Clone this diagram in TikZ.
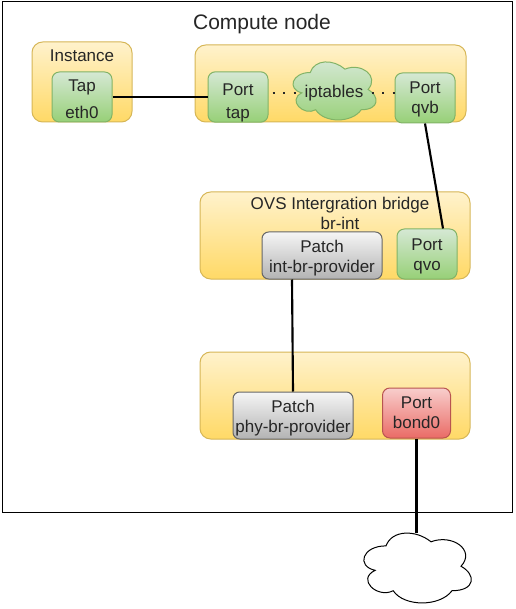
\documentclass[tikz,border=0pt]{standalone}
\usepackage{fontspec}
\setmainfont{Liberation Sans}
\usetikzlibrary{shapes}

\definecolor{bridgetop}{HTML}{FFF2CC}
\definecolor{bridgebot}{HTML}{FFD966}
\definecolor{bridgeline}{HTML}{D6B656}
\definecolor{porttop}{HTML}{D5E8D4}
\definecolor{portbot}{HTML}{97D077}
\definecolor{portline}{HTML}{82B366}
\definecolor{patchtop}{HTML}{F5F5F5}
\definecolor{patchbot}{HTML}{B3B3B3}
\definecolor{patchline}{HTML}{666666}
\definecolor{redtop}{HTML}{F8CECC}
\definecolor{redbot}{HTML}{EA6B66}
\definecolor{redline}{HTML}{B85450}

\tikzset{
  lbl/.style={font=\fontsize{12.75}{15}\selectfont,align=center,text=black!85},
  bridgebox/.style={draw=bridgeline,top color=bridgetop,bottom color=bridgebot,rounded corners=8pt,line width=0.75pt,inner sep=0pt},
  portbox/.style={lbl,draw=portline,top color=porttop,bottom color=portbot,rounded corners=5.5pt,line width=0.75pt,inner sep=0pt,minimum width=45pt,minimum height=37.5pt},
  patchbox/.style={lbl,draw=patchline,top color=patchtop,bottom color=patchbot,rounded corners=5pt,line width=0.75pt,inner sep=0pt,minimum width=90pt,minimum height=35.25pt},
  redbox/.style={portbox,draw=redline,top color=redtop,bottom color=redbot,minimum width=51pt},
  wire/.style={line width=1.6pt,black},
  dots/.style={line width=1.5pt,black!85,dash pattern=on 1.5pt off 6.4pt,dash phase=4.9pt}
}
% cloud outline: style, left, top, width, height
\newcommand{\cloudpath}[5]{
  \draw[#1,shift={(#2,#3)},x=#4*0.75pt,y=-#5*0.75pt]
    (.25,.25) .. controls (.05,.25) and (0,.5) .. (.16,.55)
    .. controls (0,.66) and (.18,.9) .. (.31,.8)
    .. controls (.4,1) and (.7,1) .. (.8,.8)
    .. controls (1,.8) and (1,.6) .. (.875,.5)
    .. controls (1,.3) and (.8,.1) .. (.625,.2)
    .. controls (.5,.05) and (.3,.05) .. (.25,.25) -- cycle;
}

\begin{document}
\begin{tikzpicture}[x=0.75pt,y=-0.75pt]
  \useasboundingbox (0,0) rectangle (516,609);
  % compute node frame
  \node[draw=black,line width=0.75pt,fill=white,inner sep=0pt,minimum width=382.5pt,minimum height=382.5pt] (compute) at (257,257) {};
  \node[font=\fontsize{15.75}{18}\selectfont,text=black!85] (computetxt) at (262,24) {Compute node};

  % bridges
  \node[bridgebox,minimum width=75pt,minimum height=60pt] (instance) at (82,82) {};
  \node[bridgebox,minimum width=203.25pt,minimum height=57.75pt] (vethbr) at (330.5,83.5) {};
  \node[bridgebox,minimum width=202.5pt,minimum height=65.25pt] (brint) at (335,235.5) {};
  \node[bridgebox,minimum width=202.5pt,minimum height=65.25pt] (brphy) at (335,395.5) {};
  \node[lbl] (instancetxt) at (82,55.5) {Instance};
  \node[lbl] (brinttxt) at (340,213) {OVS Intergration bridge\\br-int};

  % ports
  \node[portbox] (tap) at (82,97) {\rule{0pt}{12.5pt}Tap\\[5.2pt]eth0};
  \node[portbox] (porttap) at (238,97) {\rule{0pt}{17.5pt}Port\\[2.6pt]tap};
  \node[portbox] (portqvb) at (425,98) {\rule{0pt}{11.5pt}Port\\qvb};
  \node[portbox] (portqvo) at (427,254) {\rule{0pt}{12.5pt}Port\\qvo};
  \node[patchbox] (patchint) at (322,255.5) {\rule{0pt}{12.5pt}Patch\\int-br-provider};
  \node[patchbox] (patchphy) at (293,415.5) {\rule{0pt}{12.5pt}Patch\\phy-br-provider};
  \node[redbox] (bond) at (416.5,413) {Port\\bond0};

  % clouds
  \cloudpath{draw=portline,top color=porttop,bottom color=portbot,line width=0.75pt}{287}{55.6}{92.7}{67.7}
  \cloudpath{draw=black,fill=white,line width=0.75pt}{356}{525.5}{120}{81.5}
  \node[lbl,inner sep=3pt] (iptables) at (334,93) {iptables};
  \node[inner sep=0pt,minimum width=81pt,minimum height=51.75pt] (netcloud) at (418,567.5) {};

  % links
  \draw[wire] (tap) -- (porttap);
  \draw[wire] (portqvb.south) -- (portqvo.north -| 443,0);
  \draw[wire] (patchint.south -| 292,0) -- (patchphy.north);
  \draw[wire] (bond.south) -- (bond.south |- netcloud.north);
  \draw[dots] (porttap.east |- iptables.west) -- (iptables.west);
  \draw[dots] (iptables.east) -- (portqvb.west |- iptables.east);
\end{tikzpicture}
\end{document}
